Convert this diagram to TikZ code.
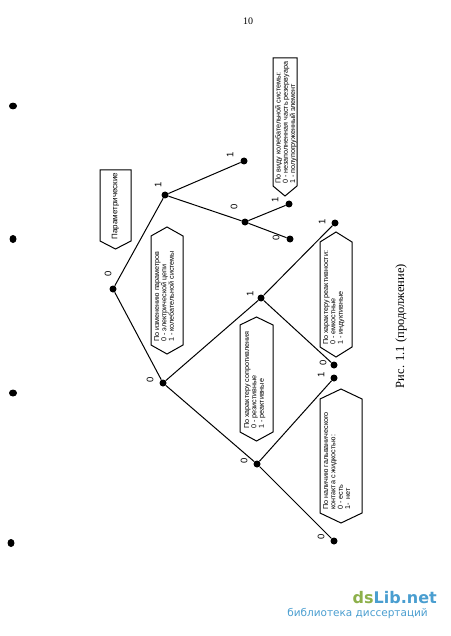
\documentclass[tikz,border=0pt]{standalone}
\usepackage{fontspec}
\setmainfont{Liberation Serif}
\newfontfamily\boxfont{Liberation Sans}
\newfontfamily\logofont{DejaVu Sans}
\definecolor{dsgreen}{HTML}{8DB04A}
\definecolor{dsblue}{HTML}{4A9ED0}
\begin{document}
\begin{tikzpicture}[x=1pt,y=-1pt,
  dot/.style={circle,fill=black,inner sep=0pt,minimum size=7pt},
  lbl/.style={rotate=90,font=\boxfont\fontsize{9.5}{10}\selectfont,inner sep=0pt},
  conn/.style={line width=1pt},
  boxline/.style={line width=1pt,line join=miter},
  boxtext/.style={rotate=90,anchor=north west,align=left,inner sep=0pt,
    font=\boxfont\fontsize{7.2}{7.3}\selectfont},
  blob/.style={fill=black}]
\fill[white] (0,0) rectangle (450,636);
\useasboundingbox (0,0) rectangle (450,636);

% page number and caption
\node[font=\fontsize{10}{12}\selectfont] (pagenum) at (248,21.5) {10};
\node[rotate=90,font=\fontsize{12.5}{14}\selectfont] (caption) at (401,326) {Рис. 1.1 (продолжение)};

% scan marks
\fill[blob] (13,106) ellipse (4 and 3.4);
\fill[blob] (13,239) ellipse (3.5 and 4);
\fill[blob] (13,393) ellipse (4 and 3.5);
\fill[blob] (11,543) ellipse (3.5 and 4);

% boxes
\draw[boxline] (100,170) -- (131,170) -- (131,241) -- (115.5,249) -- (100,241) -- cycle;
\node[rotate=90,font=\boxfont\fontsize{8}{8}\selectfont,inner sep=0pt] (tparam) at (115.5,206) {Параметрические};

\draw[boxline] (273,58) -- (297,58) -- (297,186) -- (285,196) -- (273,186) -- cycle;
\node[boxtext] (tvid) at (275,184) {По виду колебательной системы:\\0 - незаполненная часть резервуара\\1 - полупогруженный элемент};

\draw[boxline] (167,227) -- (183,236) -- (183,345) -- (167,354) -- (151,345) -- (151,236) -- cycle;
\node[boxtext] (tizm) at (154,342) {По изменению параметров\\0 - электрической цепи\\1 - колебательной системы};

\draw[boxline] (256.5,317) -- (273,325) -- (273,432) -- (256.5,441) -- (240,432) -- (240,325) -- cycle;
\node[boxtext] (tsopr) at (244,429) {По характеру сопротивления\\0 - резистивные\\1 - реактивные};

\draw[boxline] (336,232) -- (352,242) -- (352,347) -- (336,357) -- (320,347) -- (320,242) -- cycle;
\node[boxtext] (treakt) at (323,345) {По характеру реактивности:\\0 - емкостные\\1 - индуктивные};

\draw[boxline] (341,389) -- (362,399) -- (362,513) -- (341,523) -- (320,513) -- (320,399) -- cycle;
\node[boxtext] (tgalv) at (323,510) {По наличию гальванического\\контакта с жидкостью:\\0 - есть\\1-\ \ нет};

% tree nodes
\node[dot] (root) at (113,289) {};
\node[dot] (n1) at (165,195) {};
\node[dot] (la) at (244,161) {};
\node[dot] (n2) at (245,222) {};
\node[dot] (lb) at (289,204) {};
\node[dot] (lc) at (290,239) {};
\node[dot] (n3) at (163,383) {};
\node[dot] (n4) at (261,298) {};
\node[dot] (ld) at (335,223) {};
\node[dot] (le) at (334,365) {};
\node[dot] (n5) at (257,464) {};
\node[dot] (lf) at (334,378) {};
\node[dot] (lg) at (334,541) {};

% connectors
\draw[conn] (root) -- (n1);
\draw[conn] (n1) -- (la);
\draw[conn] (n1) -- (n2);
\draw[conn] (n2) -- (lb);
\draw[conn] (n2) -- (lc);
\draw[conn] (root) -- (n3);
\draw[conn] (n3) -- (n4);
\draw[conn] (n4) -- (ld);
\draw[conn] (n4) -- (le);
\draw[conn] (n3) -- (n5);
\draw[conn] (n5) -- (lf);
\draw[conn] (n5) -- (lg);

% labels
\node[lbl] (lroot) at (108,274) {0};
\node[lbl] (ln1) at (158,185) {1};
\node[lbl] (lla) at (230,155) {1};
\node[lbl] (ln2) at (234,207) {0};
\node[lbl] (llb) at (275,200) {1};
\node[lbl] (llc) at (276,238) {0};
\node[lbl] (ln3) at (150,380) {0};
\node[lbl] (ln4) at (250,294) {1};
\node[lbl] (lld) at (322,222) {1};
\node[lbl] (lle) at (323,363) {0};
\node[lbl] (llf) at (321,375) {1};
\node[lbl] (ln5) at (244,461) {0};
\node[lbl] (llg) at (321,537) {0};

% watermark
\node[anchor=base east,inner sep=0pt,font=\logofont\bfseries\fontsize{16}{18}\selectfont] (logo) at (437,603)
  {\textcolor{dsgreen}{ds}\textcolor{dsblue}{Lib.net}};
\node[anchor=base east,inner sep=0pt,text=dsblue,font=\logofont\fontsize{10.5}{12}\selectfont] (logosub) at (428,616) {библиотека диссертаций};
\end{tikzpicture}
\end{document}
